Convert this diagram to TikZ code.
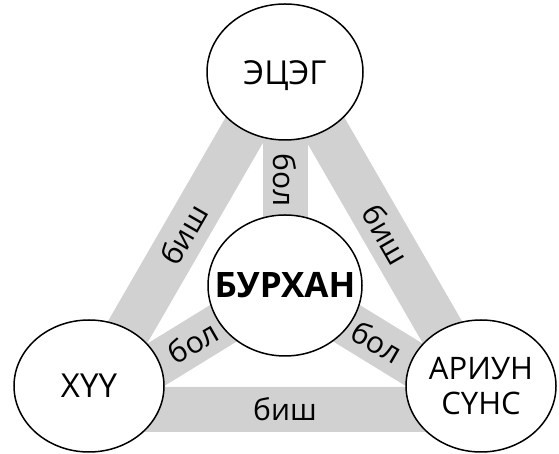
\documentclass[tikz,border=0pt]{standalone}
\usepackage{fontspec}
\setmainfont{Open Sans}
\usetikzlibrary{shapes.geometric}

\begin{document}
\begin{tikzpicture}[x=1pt, y=1pt, line width=1.5pt,
  band/.style={line width=45pt, draw=black!18, line join=miter},
  person/.style={ellipse, draw=black, fill=white, inner sep=0pt,
    minimum width=150pt, minimum height=132pt, font=\fontsize{33}{35}\selectfont},
  word/.style={font=\fontsize{30}{32}\selectfont, inner sep=0pt}]

\useasboundingbox (0,0) rectangle (559,454);

% centres of the four circles
\coordinate (cE) at (285,382);
\coordinate (cB) at (285,168.5);
\coordinate (cH) at (89,68);
\coordinate (cA) at (481,68);

% corners of the grey triangle
\coordinate (vT) at (285,394.4);
\coordinate (vL) at (83,44.5);
\coordinate (vR) at (487,44.5);

\draw[band] (vL) -- (vT) -- (vR) -- cycle;
\draw[band] (cB) -- (vT);
\draw[band] (cB) -- (vL);
\draw[band] (cB) -- (vR);

\node[person, minimum width=156pt, minimum height=136pt, text height=31pt] (ecge) at (cE) {ЭЦЭГ};
\node[person, font=\fontsize{35}{37}\selectfont\bfseries, minimum width=154pt,
  minimum height=141pt, inner xsep=-30pt] (burhan) at (cB) {БУРХАН};
\node[person] (huu) at (cH) {ХҮҮ};
\node[person, align=center, font=\fontsize{31}{35}\selectfont] (ariun) at (cA) {АРИУН\\СҮНС};

\path (vL) -- node[word, rotate=60] {биш} (vT);
\path (vT) -- node[word, rotate=-60] {биш} (vR);
\path (vL) -- node[word] {биш} (vR);

\path (cB) -- node[word, pos=0.467, rotate=-90] {бол} (vT);
\path (cB) -- node[word, pos=0.455, rotate=30] {бол} (vL);
\path (cB) -- node[word, pos=0.455, rotate=-30] {бол} (vR);

\end{tikzpicture}
\end{document}
